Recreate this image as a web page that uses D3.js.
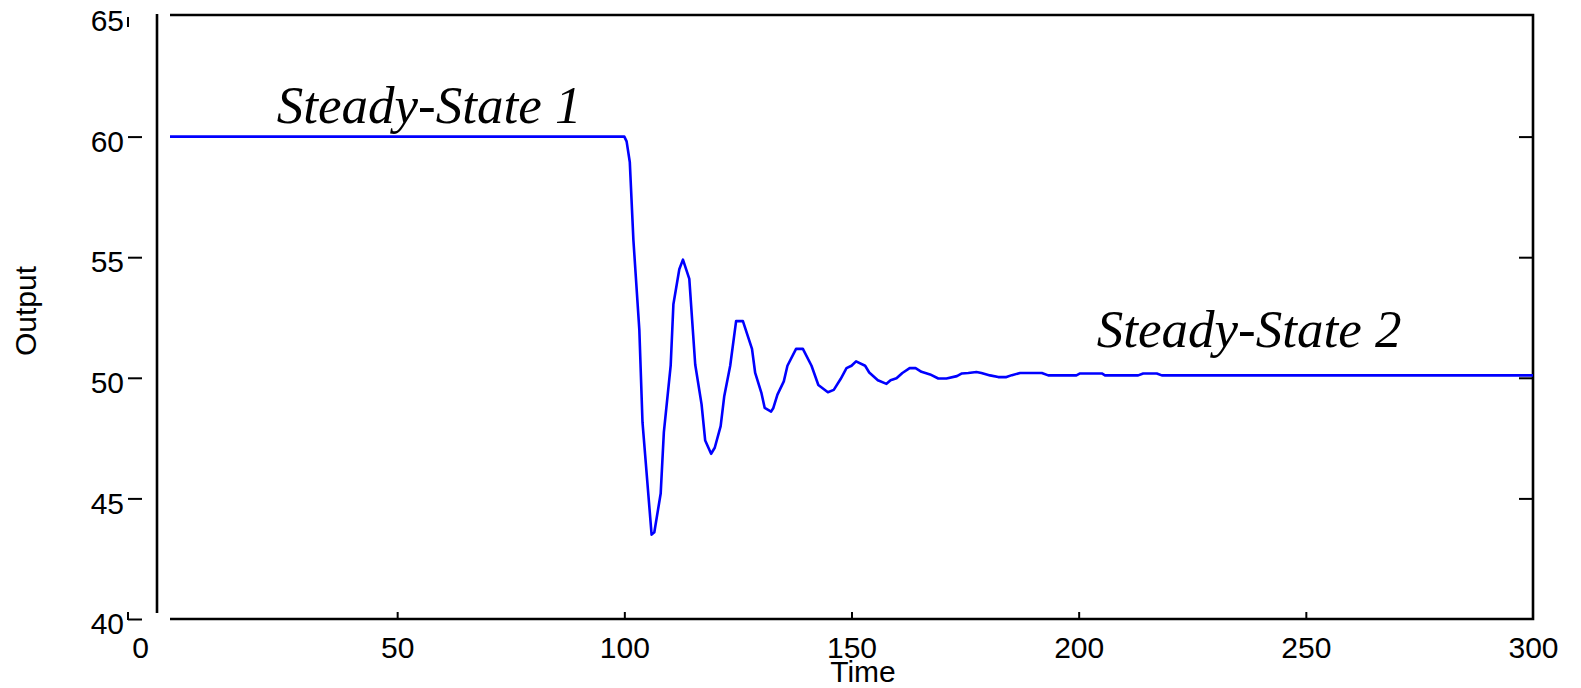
<!DOCTYPE html>
<html>
<head>
<meta charset="utf-8">
<script src="https://cdn.jsdelivr.net/npm/d3@7"></script>
<style>
  html, body { margin: 0; padding: 0; background: #fff; }
  svg { display: block; }
  .tick text { font-family: "Liberation Sans", Arial, sans-serif; font-size: 30px; fill: #000; }
  .note { font-family: "Liberation Serif", "Times New Roman", serif; font-style: italic; font-size: 53px; fill: #000; }
  .axis-title { font-family: "Liberation Sans", Arial, sans-serif; font-size: 30px; fill: #000; }
</style>
</head>
<body>
<svg id="chart" width="1581" height="688"></svg>
<script>
// Process response: output settles at 60, a step change at t = 100 triggers a
// decaying oscillation, and the output settles at a new steady state near 50.
const timeValues = [
  0, 100, 100.5, 101.2, 102, 103.3, 104, 106, 106.6, 108, 108.7, 110.2, 110.8,
  112.1, 112.9, 114.3, 115.6, 117, 117.8, 119.1, 119.9, 121.2, 122, 123.3,
  124.6, 126.1, 128.1, 128.8, 130.2, 130.9, 132.3, 132.8, 133.7, 135.1, 135.9,
  137.8, 139.3, 141.2, 142.7, 144.8, 146.1, 147.6, 148.9, 150, 151, 153, 153.9,
  155.8, 157.7, 158.6, 159.9, 161.2, 162.8, 164.1, 165.4, 167.3, 169.1, 170.9,
  173.2, 174.3, 175.7, 177.5, 178.6, 180.5, 182.3, 184.1, 185.3, 187.1, 191.9,
  193.3, 199.5, 200.3, 205.1, 205.8, 213.1, 214.2, 217.2, 218.3, 300
];
const outputValues = [
  60, 60, 59.8, 58.95, 55.7, 52.0, 48.15, 43.5, 43.6, 45.2, 47.75, 50.5, 53.05,
  54.5, 54.9, 54.1, 50.55, 48.9, 47.4, 46.85, 47.1, 48.0, 49.25, 50.5,
  52.35, 52.35, 51.2, 50.2, 49.35, 48.75, 48.6, 48.75, 49.3, 49.85, 50.5,
  51.2, 51.2, 50.5, 49.7, 49.4, 49.5, 49.95, 50.4, 50.5, 50.68, 50.5, 50.22,
  49.9, 49.75, 49.9, 49.98, 50.2, 50.4, 50.4, 50.25, 50.14, 49.97, 49.97,
  50.07, 50.18, 50.2, 50.24, 50.2, 50.1, 50.03, 50.03, 50.11, 50.2, 50.2,
  50.1, 50.1, 50.18, 50.18, 50.1, 50.1, 50.18, 50.18, 50.1, 50.1
];

const xTicks = [0, 50, 100, 150, 200, 250, 300];
const yTicks = [40, 45, 50, 55, 60, 65];

const noteTexts = ["Steady-State 1", "Steady-State 2"];
const noteTimes = [23.5, 204];
const noteOutputs = [60.57, 51.26];

const svg = d3.select("#chart");

const x = d3.scaleLinear().domain([0, 300]).range([170, 1533]);
const y = d3.scaleLinear().domain([40, 65]).range([619, 16]);

const ink = "#000";
const frameWidth = 2.6;
const tickWidth = 2;

// Frame: top, right and bottom edges meet; the left edge stands apart.
const frame = svg.append("g").attr("fill", "none").attr("stroke", ink).attr("stroke-width", frameWidth);
frame.append("path")
  .attr("d", `M${x(0)},${y(65) - 1}H${x(300)}V${y(40)}H${x(0)}`)
  .attr("stroke-linejoin", "miter");
frame.append("line")
  .attr("x1", x(0) - 13).attr("x2", x(0) - 13)
  .attr("y1", y(65) - 2).attr("y2", y(40) - 6);

// Bottom axis: short ticks pointing inwards.
const xAxis = svg.append("g")
  .attr("transform", `translate(0,${y(40)})`)
  .call(d3.axisBottom(x).tickValues(xTicks).tickFormat(d3.format("d"))
    .tickSizeInner(-7).tickSizeOuter(0).tickPadding(18));
xAxis.select(".domain").remove();
xAxis.selectAll(".tick line").attr("stroke", ink).attr("stroke-width", tickWidth)
  .attr("display", d => (d === 0 || d === 300) ? "none" : null);
xAxis.selectAll(".tick text").attr("dx", d => d === 0 ? -30 : 0);

// Left axis: ticks sit beside their labels.
const yAxisX = 142;
const yTickLen = 14;
const yAxis = svg.append("g")
  .attr("transform", `translate(${yAxisX},0)`)
  .call(d3.axisLeft(y).tickValues(yTicks).tickFormat(d3.format("d"))
    .tickSizeInner(-yTickLen).tickSizeOuter(0).tickPadding(yTickLen + 4));
yAxis.select(".domain").remove();
yAxis.selectAll(".tick line")
  .attr("x1", -yTickLen).attr("x2", 0)
  .attr("stroke", ink).attr("stroke-width", tickWidth)
  .attr("display", d => d === 65 ? "none" : null);
yAxis.selectAll(".tick text").attr("x", -(yTickLen + 4)).attr("transform", "translate(0,5)");
// Small corner stubs of the left tick column.
yAxis.append("line")
  .attr("x1", -yTickLen).attr("x2", -yTickLen)
  .attr("y1", y(65) + 1).attr("y2", y(65) + 11)
  .attr("stroke", ink).attr("stroke-width", tickWidth);
yAxis.append("line")
  .attr("x1", -yTickLen).attr("x2", -yTickLen)
  .attr("y1", y(40) - 7).attr("y2", y(40) + 1)
  .attr("stroke", ink).attr("stroke-width", tickWidth);

// Right axis: inward ticks, no labels.
const yRight = svg.append("g")
  .attr("transform", `translate(${x(300)},0)`)
  .call(d3.axisLeft(y).tickValues([45, 50, 55, 60]).tickFormat("").tickSizeInner(14).tickSizeOuter(0));
yRight.select(".domain").remove();
yRight.selectAll(".tick line").attr("stroke", ink).attr("stroke-width", tickWidth);

// Response curve.
const points = timeValues.map((t, i) => [t, outputValues[i]]);
svg.append("path")
  .datum(points)
  .attr("fill", "none")
  .attr("stroke", "#0000ff")
  .attr("stroke-width", 2.6)
  .attr("stroke-linejoin", "round")
  .attr("d", d3.line().x(d => x(d[0])).y(d => y(d[1])));

// Annotations.
svg.selectAll("text.note")
  .data(noteTexts)
  .join("text")
  .attr("class", "note")
  .attr("x", (d, i) => x(noteTimes[i]))
  .attr("y", (d, i) => y(noteOutputs[i]))
  .text(d => d);

// Axis titles.
svg.append("text").attr("class", "axis-title")
  .attr("text-anchor", "middle")
  .attr("x", 863).attr("y", 682)
  .text("Time");
svg.append("text").attr("class", "axis-title")
  .attr("text-anchor", "middle")
  .attr("transform", "translate(36,311) rotate(-90)")
  .text("Output");
</script>
</body>
</html>
